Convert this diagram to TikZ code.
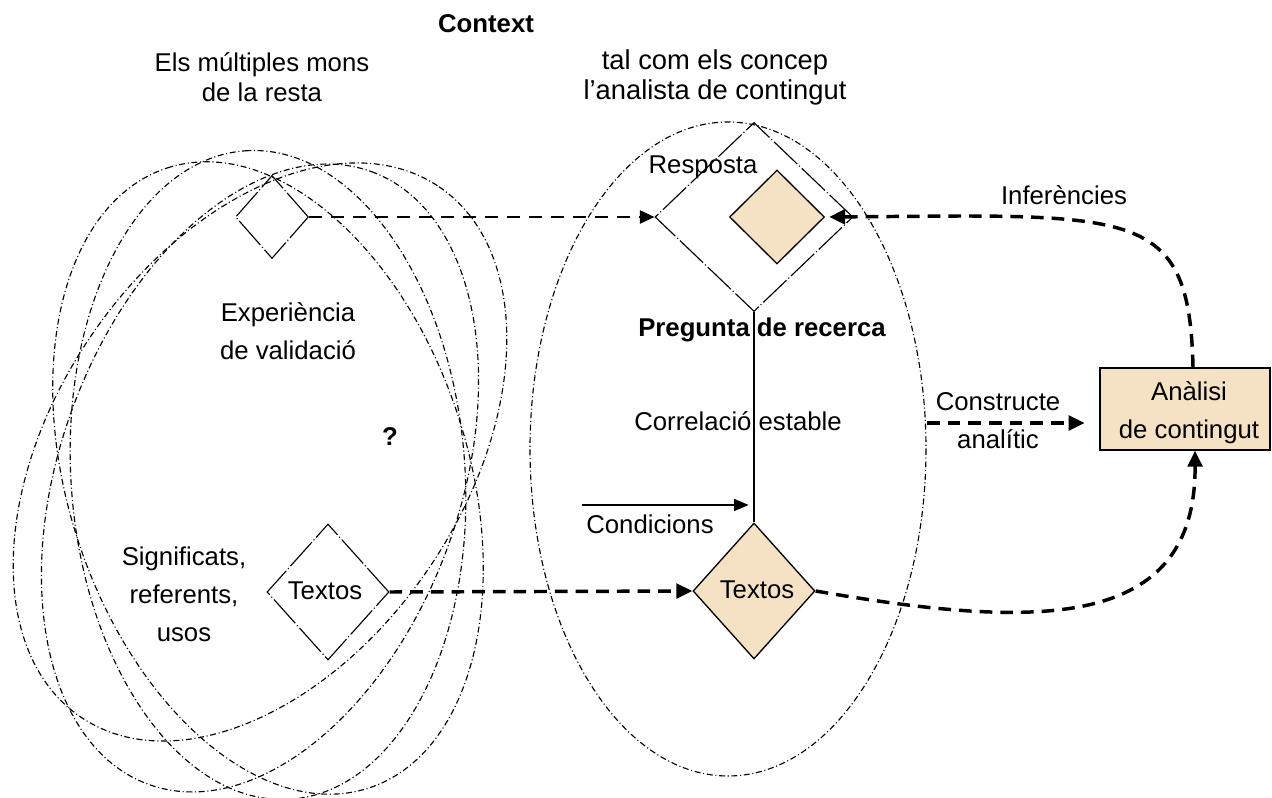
\documentclass[tikz,border=0pt]{standalone}
\usepackage{fontspec}
\setmainfont{Liberation Sans}
\usetikzlibrary{shapes.geometric,arrows.meta,calc}
\definecolor{beige}{HTML}{F5E1C3}
\begin{document}
\begin{tikzpicture}[x=0.75pt,y=-0.75pt,
  lbl/.style={font=\fontsize{19.3}{28.5}\selectfont, align=center, inner sep=0pt},
  toplbl/.style={font=\fontsize{19.3}{22.5}\selectfont, align=center, inner sep=0pt},
  ell/.style={line width=0.85pt, dash pattern=on 4.5pt off 2pt on 0.8pt off 2pt},
  opendiam/.style={diamond, draw, line width=0.85pt, inner sep=0pt,
     dash pattern=on 24pt off 2pt on 0.8pt off 2pt},
  filldiam/.style={diamond, draw, fill=beige, line width=1pt, inner sep=0pt},
  thindash/.style={line width=1.4pt, dash pattern=on 10pt off 6.5pt,
     -{Triangle[length=11pt,width=10pt]}},
  thickdash/.style={line width=2.6pt, dash pattern=on 9.5pt off 6pt,
     -{Triangle[length=12pt,width=11pt]}},
  solidline/.style={line width=1pt},
]
\useasboundingbox (0,0) rectangle (1272,798);

% left cluster of ellipses
\draw[ell, rotate around={56:(260,452)}] (260,452) ellipse [x radius=320, y radius=205];
\draw[ell, rotate around={70:(260,478)}] (260,478) ellipse [x radius=326, y radius=200];
\draw[ell, rotate around={108:(268,478)}] (268,478) ellipse [x radius=326, y radius=200];
\draw[ell, rotate around={94:(268,475)}] (268,475) ellipse [x radius=325, y radius=197];

% middle ellipse
\draw[ell] (728,449) ellipse [x radius=198, y radius=327];

% titles
\node[lbl, font=\fontsize{19.3}{22}\selectfont\bfseries] (ctx) at (486,24) {Context};
\node[toplbl] (mons) at (262,77) {Els múltiples mons\\de la resta};
\node[toplbl, font=\fontsize{20.5}{22.5}\selectfont] (tal) at (715,77) {tal com els concep\\l’analista de contingut};

% diamonds
\node[opendiam, minimum width=54.75pt, minimum height=62.25pt] (d1) at (272,217) {};
\node[opendiam, minimum width=148.5pt, minimum height=141.75pt] (resp) at (754,217) {};
\node[filldiam, minimum width=71.25pt, minimum height=70.5pt] (small) at (777,217) {};
\node[opendiam, minimum width=91.5pt, minimum height=102pt] (t1) at (328,592) {};
\node[filldiam, minimum width=91.5pt, minimum height=102pt] (t2) at (754,591) {};
\node[lbl] (t1lbl) at (325,591) {Textos};
\node[lbl] (t2lbl) at (757,590) {Textos};

% box
\node[draw, fill=beige, line width=1pt, minimum width=127.5pt, minimum height=61.5pt] (box) at (1185,409) {};
\node[lbl] (boxlbl) at (1189,413) {Anàlisi\\de contingut};

% labels
\node[lbl] (resplbl) at (703,167) {Resposta};
\node[lbl] (inf) at (1064,195) {Inferències};
\node[lbl] (exp) at (288,331) {Experiència\\de validació};
\node[lbl, font=\fontsize{19.3}{22}\selectfont\bfseries] (preg) at (762,330) {Pregunta de recerca};
\node[lbl, font=\fontsize{19.3}{22}\selectfont\bfseries] (q) at (390,437) {?};
\node[lbl] (corr) at (738,421) {Correlació estable};
\node[lbl] (constr) at (998,421) {Constructe\\analític};
\node[lbl] (cond) at (650,524) {Condicions};
\node[lbl] (sig) at (184,594) {Significats,\\referents,\\usos};

% connectors
\draw[thindash] (d1.east) -- (resp.west);
\draw[thickdash] (t1.east) -- (t2.west);
\draw[solidline] (resp.south) -- (t2.north);

\coordinate (cc) at (582,505);
\draw[solidline, -{Triangle[length=11pt,width=9pt]}, shorten >=4pt] (cc) -- (cc -| resp.south);

\coordinate (cs) at (927,423);
\draw[thickdash, shorten >=11pt] (cs) -- (cs -| box.west);

\coordinate (infturn) at (960,216);
\draw[thickdash, shorten >=3pt] ($(box.north)+(8,0)$) .. controls (1190,230) and (1150,216) .. (infturn) -- (small.east);

\draw[thickdash] (t2.east) .. controls (1040,630) and (1196,630) .. ($(box.south)+(10,0)$);

\end{tikzpicture}
\end{document}
